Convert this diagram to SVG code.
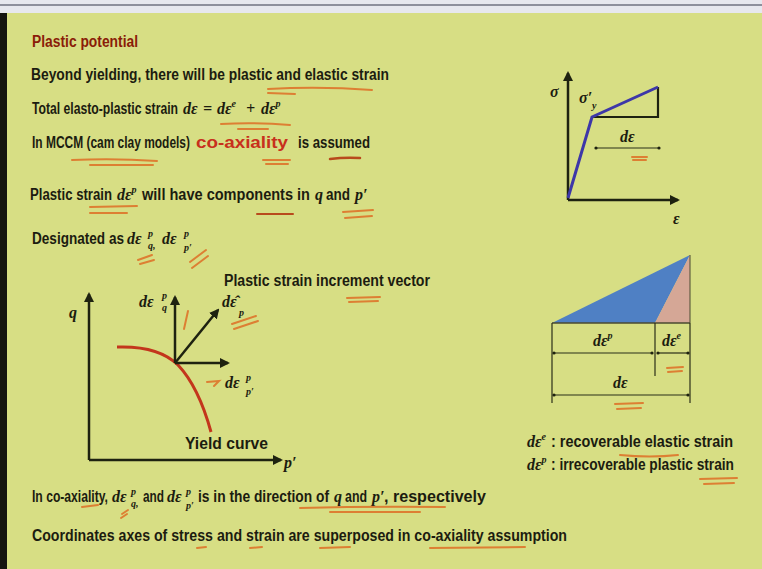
<svg xmlns="http://www.w3.org/2000/svg" width="762" height="569" viewBox="0 0 762 569">
<defs>
<style>
.t{font-family:"Liberation Sans",Arial,sans-serif;font-weight:bold;font-size:16px;fill:#1c1c10}
.m{font-family:"Liberation Serif","Times New Roman",serif;font-style:italic;font-weight:bold;font-size:16px;fill:#1c1c10}
.s{font-family:"Liberation Serif","Times New Roman",serif;font-style:italic;font-weight:bold;font-size:10px;fill:#1c1c10}
.ax{stroke:#1e2210;stroke-width:2.5;fill:none}
.thin{stroke:#2a2e18;stroke-width:1.2;fill:none}
.ul{stroke:#dd7f33;stroke-width:2;fill:none;stroke-linecap:round}
.dot{fill:#1e2210}
</style>
<marker id="ah" viewBox="0 0 10 10" refX="8" refY="5" markerWidth="4" markerHeight="4" orient="auto-start-reverse">
<path d="M0,0 L10,5 L0,10 z" fill="#1e2210"/>
</marker>
</defs>
<rect x="0" y="0" width="762" height="569" fill="#d7de84"/>
<rect x="0" y="0" width="762" height="13" fill="#e7e8ee"/>
<rect x="0" y="4" width="762" height="2" fill="#8e909c"/>
<rect x="0" y="13" width="7" height="556" fill="#141410"/>

<g id="title"><text x="32" y="47" class="t" style="fill:#8a1c08" textLength="106" lengthAdjust="spacingAndGlyphs">Plastic potential</text></g>

<g id="line1"><text x="31" y="80" class="t" textLength="358" lengthAdjust="spacingAndGlyphs">Beyond yielding, there will be plastic and elastic strain</text></g>

<g id="line2">
<text x="32" y="114" class="t" textLength="146" lengthAdjust="spacingAndGlyphs">Total elasto-plastic strain</text>
<text x="183" y="114" class="m">dε</text>
<text x="203" y="114" class="m">=</text>
<text x="217" y="114" class="m">dε<tspan class="s" dy="-7">e</tspan></text>
<text x="246" y="114" class="m">+</text>
<text x="261" y="114" class="m">dε<tspan class="s" dy="-7">p</tspan></text>
</g>

<g id="line3">
<text x="32" y="148" class="t" textLength="158" lengthAdjust="spacingAndGlyphs">In MCCM (cam clay models)</text>
<text x="196" y="148" class="t" style="fill:#c8301c" textLength="92" lengthAdjust="spacingAndGlyphs">co-axiality</text>
<text x="298" y="148" class="t" textLength="72" lengthAdjust="spacingAndGlyphs">is assumed</text>
</g>

<g id="line4">
<text x="30" y="200" class="t" textLength="82" lengthAdjust="spacingAndGlyphs">Plastic strain</text>
<text x="117" y="200" class="m">dε<tspan class="s" dy="-7">p</tspan></text>
<text x="142" y="200" class="t" textLength="168" lengthAdjust="spacingAndGlyphs">will have components in</text>
<text x="315" y="200" class="m">q</text>
<text x="326" y="200" class="t" textLength="24" lengthAdjust="spacingAndGlyphs">and</text>
<text x="355" y="200" class="m">p′</text>
</g>

<g id="line5">
<text x="32" y="244" class="t" textLength="92" lengthAdjust="spacingAndGlyphs">Designated as</text>
<text x="127" y="244" class="m">dε</text>
<text x="148" y="237" class="s">p</text>
<text x="148" y="249" class="s">q,</text>
<text x="162" y="244" class="m">dε</text>
<text x="184" y="237" class="s">p</text>
<text x="184" y="251" class="s">p′</text>
</g>

<g id="sigma-eps-plot">
<line x1="568" y1="200" x2="568" y2="73" class="ax" marker-end="url(#ah)"/>
<line x1="568" y1="200" x2="678" y2="200" class="ax" marker-end="url(#ah)"/>
<text x="550" y="97" class="m">σ</text>
<text x="673" y="224" class="m">ε</text>
<polyline points="658,87 658,117 592,117" fill="none" stroke="#1e2210" stroke-width="2.2"/>
<polyline points="568,198 592,117 658,87" fill="none" stroke="#3d37a8" stroke-width="3"/>
<text x="579" y="103" class="m">σ′</text>
<text x="592" y="109" class="s">y</text>
<text x="620" y="142" class="m">dε</text>
<line x1="596" y1="148" x2="659" y2="148" class="thin"/>
<circle cx="596" cy="148" r="1.6" class="dot"/>
<circle cx="659" cy="148" r="1.6" class="dot"/>
</g>

<g id="strain-triangle">
<polygon points="552,323 690,255 655,323" fill="#4f80c4"/>
<polygon points="655,323 690,255 690,323" fill="#d5a796"/>
<line x1="552" y1="323" x2="690" y2="323" stroke="#4a4a30" stroke-width="1.5"/>
<line x1="690" y1="255" x2="690" y2="323" stroke="#4a4a30" stroke-width="1"/>
<line x1="552" y1="323" x2="552" y2="403" class="thin"/>
<line x1="690" y1="323" x2="690" y2="403" class="thin"/>
<line x1="655" y1="323" x2="655" y2="376" class="thin"/>
<line x1="553" y1="353" x2="653" y2="353" class="thin"/>
<line x1="657" y1="353" x2="689" y2="353" class="thin"/>
<line x1="553" y1="395" x2="689" y2="395" class="thin"/>
<circle cx="554" cy="353" r="1.6" class="dot"/><circle cx="652" cy="353" r="1.6" class="dot"/>
<circle cx="658" cy="353" r="1.6" class="dot"/><circle cx="688" cy="353" r="1.6" class="dot"/>
<circle cx="554" cy="395" r="1.6" class="dot"/><circle cx="688" cy="395" r="1.6" class="dot"/>
<text x="593" y="346" class="m">dε<tspan class="s" dy="-7">p</tspan></text>
<text x="662" y="346" class="m">dε<tspan class="s" dy="-7">e</tspan></text>
<text x="613" y="388" class="m">dε</text>
</g>

<g id="legend">
<text x="527" y="447" class="m">dε<tspan class="s" dy="-7">e</tspan></text>
<text x="551" y="447" class="t" textLength="182" lengthAdjust="spacingAndGlyphs">: recoverable elastic strain</text>
<text x="527" y="470" class="m">dε<tspan class="s" dy="-7">p</tspan></text>
<text x="551" y="470" class="t" textLength="183" lengthAdjust="spacingAndGlyphs">: irrecoverable plastic strain</text>
</g>

<g id="q-p-plot">
<line x1="89" y1="460" x2="89" y2="294" class="ax" marker-end="url(#ah)"/>
<line x1="89" y1="460" x2="281" y2="460" class="ax" marker-end="url(#ah)"/>
<text x="69" y="318" class="m">q</text>
<text x="284" y="468" class="m">p′</text>
<path d="M117,347 C145,346 165,352 178,365 C195,383 205,410 211,432" fill="none" stroke="#c3361c" stroke-width="3"/>
<text x="185" y="449" class="t" textLength="83" lengthAdjust="spacingAndGlyphs">Yield curve</text>
</g>

<g id="vectors">
<line x1="175" y1="363" x2="175" y2="297" class="ax" marker-end="url(#ah)"/>
<line x1="175" y1="363" x2="218" y2="310" class="ax" marker-end="url(#ah)"/>
<line x1="175" y1="363" x2="228" y2="363" class="ax" marker-end="url(#ah)"/>
</g>

<g id="vector-labels">
<text x="139" y="307" class="m">dε</text>
<text x="162" y="299" class="s">p</text>
<text x="162" y="311" class="s">q</text>
<text x="222" y="307" class="m">dε̂</text>
<text x="239" y="316" class="s">p</text>
<text x="225" y="388" class="m">dε</text>
<text x="246" y="381" class="s">p</text>
<text x="246" y="395" class="s">p′</text>
<text x="224" y="286" class="t" textLength="206" lengthAdjust="spacingAndGlyphs">Plastic strain increment vector</text>
</g>

<g id="bottom1">
<text x="32" y="502" class="t" textLength="76" lengthAdjust="spacingAndGlyphs">In co-axiality,</text>
<text x="112" y="502" class="m">dε</text>
<text x="131" y="495" class="s">p</text>
<text x="131" y="507" class="s">q,</text>
<text x="143" y="502" class="t" textLength="21" lengthAdjust="spacingAndGlyphs">and</text>
<text x="167" y="502" class="m">dε</text>
<text x="186" y="495" class="s">p</text>
<text x="186" y="509" class="s">p′</text>
<text x="198" y="502" class="t" textLength="131" lengthAdjust="spacingAndGlyphs">is in the direction of</text>
<text x="334" y="502" class="m">q</text>
<text x="345" y="502" class="t" textLength="22" lengthAdjust="spacingAndGlyphs">and</text>
<text x="372" y="502" class="m">p′</text>
<text x="384" y="502" class="t" textLength="102" lengthAdjust="spacingAndGlyphs">, respectively</text>
</g>

<g id="bottom2"><text x="32" y="541" class="t" textLength="535" lengthAdjust="spacingAndGlyphs">Coordinates axes of stress and strain are superposed in co-axiality assumption</text></g>

<g id="annotations">
<path class="ul" d="M268,89 Q320,86 372,90 M268,93 L295,94"/>
<path class="ul" d="M221,124 Q255,122 290,125 M238,129 L268,129"/>
<path class="ul" d="M72,160 Q115,158 157,161 M90,165 L153,165"/>
<path class="ul" d="M263,160 L290,160 M266,164 L288,164"/>
<path class="ul" d="M330,159 Q345,157 360,158" style="stroke:#b84a1c;stroke-width:2.5"/>
<path class="ul" d="M90,207 L137,206 M90,213 L127,213"/>
<path class="ul" d="M257,214 L293,214" style="stroke:#b84a1c"/>
<path class="ul" d="M343,212 L373,210 M345,218 L372,216"/>
<path class="ul" d="M138,260 L152,255 M140,264 L154,260"/>
<path class="ul" d="M190,262 L206,250 M192,268 L208,256"/>
<path class="ul" d="M347,298 L380,297 M349,302 L378,301"/>
<path class="ul" d="M188,311 L184,329"/>
<path class="ul" d="M232,324 L256,316 M234,329 L258,321"/>
<path class="ul" d="M207,382 L219,381 L214,386"/>
<path class="ul" d="M632,157 L647,157 M633,160 L646,160"/>
<path class="ul" d="M667,368 L683,367 M668,372 L682,371"/>
<path class="ul" d="M615,404 L643,403 M617,409 L641,408"/>
<path class="ul" d="M620,455 Q650,458 678,455"/>
<path class="ul" d="M700,479 L737,478 M704,484 L734,483"/>
<path class="ul" d="M82,507 L98,505"/>
<path class="ul" d="M122,514 L128,510 M121,518 L127,514"/>
<path class="ul" d="M300,508 Q370,506 445,507 M330,512 L420,512"/>
<path class="ul" d="M197,548 L206,547 M250,548 L262,547 M320,548 L350,547 M430,548 L525,547"/>
</g>
</svg>
